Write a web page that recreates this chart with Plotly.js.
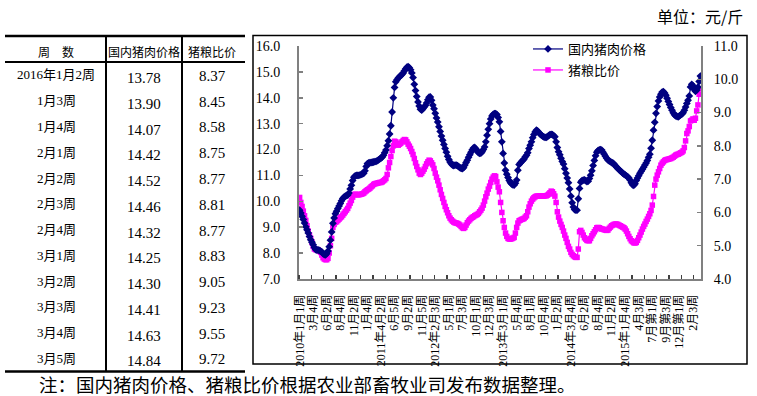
<!DOCTYPE html>
<html>
<head>
<meta charset="utf-8">
<script src="https://cdn.plot.ly/plotly-3.0.1.min.js"></script>
<style>
html,body{margin:0;padding:0;background:#fff;}
#chart{width:757px;height:396px;}
</style>
</head>
<body>
<div id="chart"></div>
<script>
// ---------------- data ----------------
const tickLabels = ["2010年1月1周","3月4周","6月2周","8月4周","11月2周","1月4周","2011年4月2周","6月5周","9月2周","11月5周",
  "2012年2月3周","5月1周","7月3周","10月1周","12月3周","2013年3月1周","5月4周","8月1周","10月4周","1月2周",
  "2014年3月4周","6月2周","8月4周","11月2周","2015年1月4周","4月3周","7月第1周","9月第3周","12月第1周","2月3周"];

const porkPrice = [
  9.66,9.55,9.42,9.30,9.16,9.02,8.90,8.78,8.64,8.52,
  8.42,8.32,8.22,8.14,8.12,8.12,8.10,8.08,8.05,7.98,
  7.94,7.93,7.98,8.08,8.25,8.50,8.82,9.15,9.36,9.52,
  9.62,9.72,9.82,9.92,10.02,10.11,10.16,10.20,10.22,10.24,
  10.32,10.48,10.62,10.80,10.93,10.98,11.00,11.00,11.00,11.02,
  11.04,11.06,11.08,11.18,11.35,11.46,11.48,11.49,11.50,11.51,
  11.52,11.53,11.54,11.57,11.60,11.64,11.67,11.71,11.78,11.88,
  11.98,12.15,12.34,12.60,12.92,13.45,14.00,14.40,14.62,14.70,
  14.76,14.82,14.86,14.90,14.96,15.04,15.12,15.18,15.20,15.16,
  15.08,14.96,14.78,14.52,14.28,14.05,13.84,13.68,13.56,13.52,
  13.58,13.64,13.70,13.80,13.92,14.02,14.03,13.90,13.72,13.58,
  13.40,13.22,13.06,12.88,12.70,12.52,12.36,12.20,12.04,11.90,
  11.74,11.62,11.52,11.45,11.40,11.38,11.40,11.40,11.38,11.34,
  11.30,11.27,11.26,11.30,11.40,11.50,11.59,11.70,11.80,11.90,
  11.99,12.06,12.08,12.02,11.95,11.88,11.85,11.86,11.92,12.00,
  12.10,12.30,12.55,12.78,13.00,13.18,13.30,13.36,13.39,13.39,
  13.35,13.24,13.07,12.70,12.30,11.85,11.48,11.20,11.05,10.92,
  10.80,10.72,10.67,10.64,10.63,10.70,10.82,11.20,11.42,11.48,
  11.54,11.58,11.64,11.72,11.78,11.88,12.04,12.17,12.30,12.46,
  12.58,12.68,12.75,12.72,12.66,12.60,12.56,12.52,12.49,12.47,
  12.47,12.50,12.54,12.58,12.59,12.58,12.54,12.49,12.30,12.08,
  11.92,11.80,11.66,11.54,11.44,11.26,11.08,10.90,10.72,10.48,
  10.20,9.95,9.78,9.68,9.66,9.66,10.10,10.50,10.74,10.80,
  10.82,10.83,10.80,10.76,10.78,10.88,11.01,11.18,11.38,11.58,
  11.76,11.90,11.96,11.99,12.00,11.98,11.90,11.82,11.74,11.66,
  11.60,11.56,11.53,11.50,11.48,11.44,11.38,11.32,11.27,11.23,
  11.18,11.14,11.09,11.05,11.02,10.98,10.95,10.90,10.82,10.72,
  10.64,10.62,10.68,10.80,10.90,10.99,11.08,11.16,11.24,11.32,
  11.40,11.48,11.58,11.70,11.82,12.05,12.36,12.75,13.05,13.40,
  13.66,13.88,14.03,14.14,14.22,14.24,14.18,14.10,13.98,13.86,
  13.74,13.62,13.52,13.42,13.34,13.30,13.28,13.26,13.30,13.34,
  13.37,13.42,13.52,13.64,13.78,13.90,14.07,14.42,14.52,14.46,
  14.32,14.25,14.30,14.41,14.63,14.84];

const hogGrainRatio = [
  6.45,6.30,6.18,6.04,5.90,5.76,5.60,5.44,5.32,5.22,
  5.10,4.98,4.90,4.88,4.88,4.88,4.84,4.80,4.72,4.64,
  4.60,4.58,4.58,4.62,4.78,5.00,5.22,5.55,5.64,5.70,
  5.72,5.76,5.80,5.84,5.87,5.92,5.97,6.02,6.07,6.12,
  6.20,6.28,6.36,6.46,6.53,6.55,6.54,6.53,6.53,6.54,
  6.55,6.56,6.58,6.62,6.65,6.68,6.70,6.73,6.77,6.80,
  6.84,6.86,6.87,6.88,6.89,6.90,6.90,6.92,6.95,6.98,
  7.02,7.14,7.34,7.50,7.68,7.86,8.00,8.14,8.12,8.04,
  8.02,8.05,8.08,8.12,8.16,8.19,8.18,8.12,8.05,7.99,
  7.92,7.83,7.74,7.62,7.49,7.38,7.28,7.18,7.14,7.18,
  7.24,7.30,7.38,7.46,7.52,7.57,7.55,7.49,7.43,7.32,
  7.18,7.06,6.95,6.82,6.68,6.54,6.42,6.30,6.18,6.08,
  5.99,5.90,5.83,5.78,5.74,5.71,5.69,5.68,5.67,5.65,
  5.62,5.58,5.54,5.52,5.55,5.62,5.69,5.74,5.78,5.82,
  5.85,5.87,5.90,5.92,5.94,5.97,6.02,6.07,6.13,6.22,
  6.34,6.47,6.58,6.70,6.79,6.90,7.00,7.06,7.10,7.08,
  6.92,6.76,6.62,6.30,6.00,5.75,5.55,5.38,5.28,5.22,
  5.20,5.20,5.21,5.23,5.25,5.38,5.55,5.68,5.75,5.77,
  5.79,5.80,5.82,5.86,5.90,6.02,6.16,6.26,6.34,6.40,
  6.44,6.47,6.49,6.49,6.49,6.49,6.49,6.49,6.49,6.50,
  6.50,6.52,6.55,6.59,6.64,6.62,6.56,6.49,6.30,6.02,
  5.86,5.74,5.64,5.55,5.44,5.32,5.22,5.10,4.98,4.90,
  4.80,4.74,4.70,4.67,4.65,4.65,4.90,5.42,5.46,5.40,
  5.32,5.24,5.20,5.16,5.15,5.15,5.22,5.30,5.36,5.42,
  5.48,5.54,5.55,5.54,5.52,5.50,5.50,5.48,5.47,5.46,
  5.47,5.52,5.56,5.60,5.62,5.64,5.65,5.65,5.64,5.62,
  5.60,5.58,5.56,5.54,5.50,5.44,5.36,5.28,5.21,5.15,
  5.12,5.09,5.08,5.10,5.16,5.24,5.32,5.41,5.50,5.58,
  5.65,5.73,5.80,5.88,5.96,6.06,6.22,6.48,6.82,7.00,
  7.12,7.22,7.32,7.42,7.48,7.52,7.56,7.58,7.59,7.60,
  7.61,7.62,7.64,7.66,7.69,7.72,7.74,7.75,7.77,7.79,
  7.81,7.85,7.95,8.15,8.37,8.45,8.58,8.75,8.77,8.81,
  8.77,8.83,9.05,9.23,9.55,9.72];

const tableHeader = ["周　数", "国内猪肉价格", "猪粮比价"];
const tableWeeks = ["2016年1月2周","1月3周","1月4周","2月1周","2月2周","2月3周","2月4周","3月1周","3月2周","3月3周","3月4周","3月5周"];
const tablePork  = ["13.78","13.90","14.07","14.42","14.52","14.46","14.32","14.25","14.30","14.41","14.63","14.84"];
const tableRatio = ["8.37","8.45","8.58","8.75","8.77","8.81","8.77","8.83","9.05","9.23","9.55","9.72"];

const unitText = "单位：元/斤";
const noteText = "注：国内猪肉价格、猪粮比价根据农业部畜牧业司发布数据整理。";

// ---------------- layout helpers ----------------
const W = 757, H = 396;
const PL = 299, PR = 701, PT = 46, PB = 279;
const px = x => (x - PL) / (PR - PL);
const py = y => (PB - y) / (PB - PT);

const SERIF = "Liberation Serif, Noto Sans CJK SC, serif";
const CJK = "Noto Sans CJK SC, sans-serif";
const idx = porkPrice.map((_, i) => i);

const traces = [
  {
    x: idx, y: porkPrice, name: "国内猪肉价格", type: "scatter", mode: "lines+markers",
    yaxis: "y2", legend: "legend",
    line: {color: "#000080", width: 1.2},
    marker: {symbol: "diamond", size: 6, color: "#000080"}
  },
  {
    x: idx, y: hogGrainRatio, name: "猪粮比价", type: "scatter", mode: "lines+markers",
    yaxis: "y", legend: "legend2",
    line: {color: "#FF00FF", width: 1.2},
    marker: {symbol: "square", size: 5.5, color: "#FF00FF"}
  }
];

const minorVals = [];
for (let b = -0.5; b <= porkPrice.length - 0.5 + 1e-9; b += 10) minorVals.push(b);

const shapes = [];
const L = (x0, y0, x1, y1, w) => shapes.push({type: "line", xref: "paper", yref: "paper",
  x0: px(x0), y0: py(y0), x1: px(x1), y1: py(y1), line: {color: "#000", width: w}});
// chart frame
shapes.push({type: "rect", xref: "paper", yref: "paper", x0: px(253), y0: py(364), x1: px(747), y1: py(35.5),
  line: {color: "#000", width: 1.5}, fillcolor: "rgba(0,0,0,0)"});
// table rules
L(5, 36, 245, 36, 2.5);
L(5, 62, 245, 62, 2);
L(5, 371.5, 245, 371.5, 2.5);
L(106, 36, 106, 371.5, 2);
L(182, 36, 182, 371.5, 2);

const annotations = [];
const A = (text, x, y, size, family, xanchor) => annotations.push({
  text: text, xref: "paper", yref: "paper", x: px(x), y: py(y), xanchor: xanchor || "center", yanchor: "middle",
  showarrow: false, font: {size: size, family: family, color: "#000"}});

const colX = [56, 144, 212];
tableHeader.forEach((t, k) => A(t, colX[k], 51.5, 12, CJK));
tableWeeks.forEach((t, r) => {
  const yy = 75 + r * 25.75;
  A(t, colX[0], yy, 13, SERIF);
  A(tablePork[r], colX[1], yy + 3, 15, SERIF);
  A(tableRatio[r], colX[2], yy + 1, 15, SERIF);
});
A(unitText, 745, 16, 16, CJK, "right");
A(noteText, 37, 384, 18.5, CJK, "left");

const legendBase = {xanchor: "left", yanchor: "top", bgcolor: "rgba(0,0,0,0)",
  font: {size: 13, family: CJK, color: "#000"}, itemwidth: 30};

const layout = {
  width: W, height: H,
  margin: {l: PL, r: W - PR, t: PT, b: H - PB, pad: 0},
  paper_bgcolor: "#fff", plot_bgcolor: "rgba(0,0,0,0)",
  showlegend: true,
  legend: Object.assign({x: px(528), y: py(34)}, legendBase),
  legend2: Object.assign({x: px(528), y: py(55)}, legendBase),
  xaxis: {
    range: [-0.5, porkPrice.length - 0.5], showgrid: false, zeroline: false,
    tickmode: "array", tickvals: tickLabels.map((_, k) => k * 11), ticktext: tickLabels,
    tickangle: -90, ticks: "", ticklabelstandoff: 9,
    tickfont: {size: 12, family: SERIF, color: "#000"},
    showline: true, linecolor: "#808080", linewidth: 2,
    minor: {tickmode: "array", tickvals: minorVals, ticks: "inside", ticklen: 4, tickwidth: 1.2, tickcolor: "#404040", showgrid: false}
  },
  yaxis: {
    range: [4, 11], dtick: 1, tick0: 4, side: "right", tickformat: ".1f",
    showgrid: false, zeroline: false, ticks: "inside", ticklen: 4, tickwidth: 1.5, tickcolor: "#808080",
    showline: true, linecolor: "#808080", linewidth: 2, ticklabelstandoff: 8,
    tickfont: {size: 14, family: SERIF, color: "#000"}
  },
  yaxis2: {
    range: [7, 16], dtick: 1, tick0: 7, side: "left", overlaying: "y", tickformat: ".1f",
    showgrid: false, zeroline: false, ticks: "inside", ticklen: 4, tickwidth: 1.5, tickcolor: "#808080",
    showline: true, linecolor: "#808080", linewidth: 2, ticklabelstandoff: 14,
    tickfont: {size: 14, family: SERIF, color: "#000"}
  },
  shapes: shapes,
  annotations: annotations
};

Plotly.newPlot("chart", traces, layout, {displayModeBar: false, staticPlot: true});
</script>
</body>
</html>
